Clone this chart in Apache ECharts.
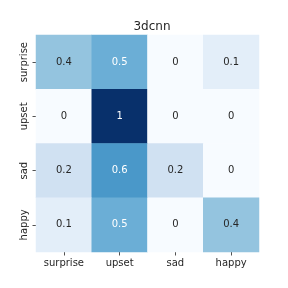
<!DOCTYPE html>
<html><head><meta charset="utf-8">
<script src="https://cdn.jsdelivr.net/npm/echarts@6/dist/echarts.min.js"></script>
<style>html,body{margin:0;padding:0;background:#fff}#c{width:288px;height:288px}</style>
</head><body><div id="c"></div>
<script>
const title = "3dcnn";
const xCategories = ["surprise", "upset", "sad", "happy"];
const yCategories = ["surprise", "upset", "sad", "happy"];
const rowSurprise = [0.4, 0.5, 0, 0.1];
const rowUpset = [0, 1, 0, 0];
const rowSad = [0.2, 0.6, 0.2, 0];
const rowHappy = [0.1, 0.5, 0, 0.4];
const rows = [rowSurprise, rowUpset, rowSad, rowHappy];

const data = [];
rows.forEach((r, yi) => r.forEach((v, xi) => data.push([xi, yi, v])));

const font = "DejaVu Sans";
const chart = echarts.init(document.getElementById('c'), null, {renderer: 'canvas'});
chart.setOption({
  animation: false,
  backgroundColor: '#fff',
  title: {text: title, left: 147, top: 16, textAlign: 'center',
    textStyle: {fontFamily: font, fontSize: 12, fontWeight: 'normal', color: '#262626'}},
  grid: {left: 36, top: 35, width: 223, height: 217},
  xAxis: {type: 'category', data: xCategories,
    axisLine: {show: false},
    axisTick: {show: true, alignWithLabel: true, length: 3.5, lineStyle: {color: '#262626', width: 0.8}},
    axisLabel: {fontFamily: font, fontSize: 10, color: '#262626', margin: 6},
    splitLine: {show: false}},
  yAxis: {type: 'category', data: yCategories, inverse: true,
    axisLine: {show: false},
    axisTick: {show: true, alignWithLabel: true, length: 3.5, lineStyle: {color: '#262626', width: 0.8}},
    axisLabel: {fontFamily: font, fontSize: 10, color: '#262626', rotate: 90, margin: 7},
    splitLine: {show: false}},
  visualMap: {show: false, min: 0, max: 1, dimension: 2,
    inRange: {color: ['#f7fbff','#deebf7','#c6dbef','#9ecae1','#6baed6','#4292c6','#2171b5','#08519c','#08306b']}},
  series: [{type: 'heatmap', data: data,
    label: {show: true, fontFamily: font, fontSize: 10,
      formatter: p => String(p.value[2]),
      color: '#262626'},
    emphasis: {disabled: true}}]
});
// per-cell label colours (white on dark cells)
const opt = chart.getOption();
const styled = data.map(d => ({value: d, label: {color: d[2] >= 0.45 ? '#ffffff' : '#262626'}}));
chart.setOption({series: [{data: styled}]});
</script></body></html>
